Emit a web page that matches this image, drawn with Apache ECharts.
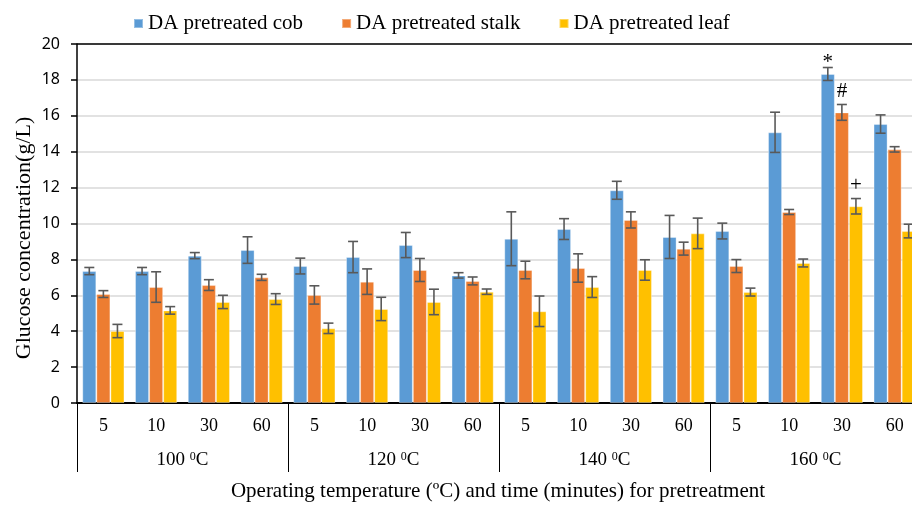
<!DOCTYPE html>
<html>
<head>
<meta charset="utf-8">
<script src="https://cdn.jsdelivr.net/npm/echarts@6/dist/echarts.min.js"></script>
<style>
html,body{margin:0;padding:0;background:#fff;overflow:hidden;width:912px;height:505px;}
#chart{width:930px;height:505px;}
</style>
</head>
<body>
<div id="chart"></div>
<script>
// ---- data ----
const minutes = ['5','10','30','60','5','10','30','60','5','10','30','60','5','10','30','60'];
const temps = ['100','120','140','160'];
const seriesNames = ['DA pretreated cob','DA pretreated stalk','DA pretreated leaf'];
const cob      = [7.35, 7.35, 8.21, 8.52, 7.63, 8.13, 8.80, 7.11, 9.15, 9.69, 11.85, 9.25, 9.58, 15.08, 18.33, 15.54];
const cobErr   = [0.20, 0.20, 0.17, 0.74, 0.44, 0.87, 0.70, 0.15, 1.50, 0.58, 0.50, 1.20, 0.44, 1.12, 0.36, 0.51];
const stalk    = [6.07, 6.46, 6.57, 7.00, 6.02, 6.76, 7.41, 6.80, 7.41, 7.52, 10.20, 8.60, 7.63, 10.64, 16.19, 14.13];
const stalkErr = [0.19, 0.85, 0.30, 0.17, 0.51, 0.71, 0.64, 0.22, 0.49, 0.79, 0.45, 0.36, 0.36, 0.14, 0.44, 0.15];
const leaf     = [4.01, 5.16, 5.63, 5.79, 4.16, 5.24, 5.63, 6.20, 5.11, 6.46, 7.41, 9.45, 6.18, 7.80, 10.96, 9.58];
const leafErr  = [0.37, 0.21, 0.37, 0.30, 0.29, 0.65, 0.71, 0.15, 0.85, 0.58, 0.57, 0.85, 0.22, 0.22, 0.43, 0.38];
const marks = [ {cat:14, s:0, text:'*'}, {cat:14, s:1, text:'#'}, {cat:14, s:2, text:'+'} ];
const yTicks = {min:0, max:20, interval:2};

// ---- build ----
const values = [cob, stalk, leaf];
const errs = [cobErr, stalkErr, leafErr];
const colors = ['#5B9BD5','#ED7D31','#FFC000'];
const serif = 'Liberation Serif';
const gapRatio = 0.2;

const errData = [];
values.forEach((arr, s) => arr.forEach((v, i) => errData.push([i, v, s, errs[s][i]])));
const markData = marks.map(m => [m.cat, values[m.s][m.cat] + errs[m.s][m.cat], m.s]);

function barOffset(api, s){
  const band = api.size([1,0])[0];
  const bw = band*(1-gapRatio)/3;
  return (s-1)*bw;
}

const chart = echarts.init(document.getElementById('chart'), null, {renderer:'canvas'});
chart.setOption({
  animation:false,
  color: colors,
  legend:{
    data: seriesNames, left:128, top:8, itemWidth:9, itemHeight:9, itemGap:38,
    icon:'rect',
    textStyle:{fontFamily:serif, fontSize:21, color:'#000'}
  },
  grid:{left:77, top:44, right:9, bottom:102, containLabel:false},
  xAxis:[
    {type:'category', data:minutes, gridIndex:0, position:'bottom',
     axisLine:{show:true, lineStyle:{color:'#000', width:2}},
     axisTick:{show:false},
     axisLabel:{fontFamily:serif, fontSize:18, color:'#000', margin:14, interval:0}},
    {type:'category', data:temps, gridIndex:0, position:'bottom',
     axisLine:{show:false},
     axisTick:{show:true, length:69, lineStyle:{color:'#000', width:1}},
     axisLabel:{margin:48, interval:0,
       formatter: v => v + ' {sup|0}C',
       fontFamily:serif, fontSize:19, color:'#000',
       rich:{sup:{fontFamily:serif, fontSize:12, verticalAlign:'top', color:'#000'}}}}
  ],
  yAxis:{type:'value', min:yTicks.min, max:yTicks.max, interval:yTicks.interval,
    axisLine:{show:true, lineStyle:{color:'#000', width:1.5}},
    axisTick:{show:true, length:6, lineStyle:{color:'#000', width:1.5}},
    axisLabel:{fontFamily:'Noto Sans', fontSize:16, color:'#000', margin:17},
    splitLine:{show:true, lineStyle:{color:'#d9d9d9', width:1.5}}
  },
  graphic:[
    {type:'text', x:24, y:238, rotation:Math.PI/2,
     style:{text:'Glucose concentration(g/L)', fontFamily:serif, fontSize:22, fill:'#000', align:'center', verticalAlign:'middle'}},
    {type:'text', x:498, y:491,
     style:{text:'Operating temperature (ºC) and time (minutes) for pretreatment', fontFamily:serif, fontSize:21, fill:'#000', align:'center', verticalAlign:'middle'}}
  ],
  series:[
    ...seriesNames.map((n, s) => ({
      name:n, type:'bar', data:values[s], barGap:'0%', barCategoryGap:(gapRatio*100)+'%',
      itemStyle:{color:colors[s], borderColor:'rgba(255,255,255,0.35)', borderWidth:1},
      markLine: s===0 ? {silent:true, symbol:'none', label:{show:false},
        lineStyle:{color:'#000', type:'solid', width:1.5}, data:[{yAxis:20}]} : undefined
    })),
    {type:'custom', data:errData, z:5, silent:true,
     renderItem:(params, api) => {
       const cat = api.value(0), v = api.value(1), s = api.value(2), e = api.value(3);
       const off = barOffset(api, s);
       const top = api.coord([cat, v+e]);
       const bot = api.coord([cat, v-e]);
       const x = top[0] + off;
       const cap = 5;
       const st = {stroke:'#595959', lineWidth:1.6};
       return {type:'group', children:[
         {type:'line', shape:{x1:x, y1:top[1], x2:x, y2:bot[1]}, style:st},
         {type:'line', shape:{x1:x-cap, y1:top[1], x2:x+cap, y2:top[1]}, style:st},
         {type:'line', shape:{x1:x-cap, y1:bot[1], x2:x+cap, y2:bot[1]}, style:st}
       ]};
     }},
    {type:'custom', data:markData, z:6, silent:true,
     renderItem:(params, api) => {
       const cat = api.value(0), v = api.value(1), s = api.value(2);
       const m = marks[params.dataIndex];
       const p = api.coord([cat, v]);
       const x = p[0] + barOffset(api, s);
       const dy = m.text === '*' ? 5 : -3;
       return {type:'text', x:x, y:p[1]+dy,
         style:{text:m.text, fontFamily:serif, fontSize:21, fill:'#000', align:'center', verticalAlign:'bottom'}};
     }}
  ]
});
</script>
</body>
</html>
